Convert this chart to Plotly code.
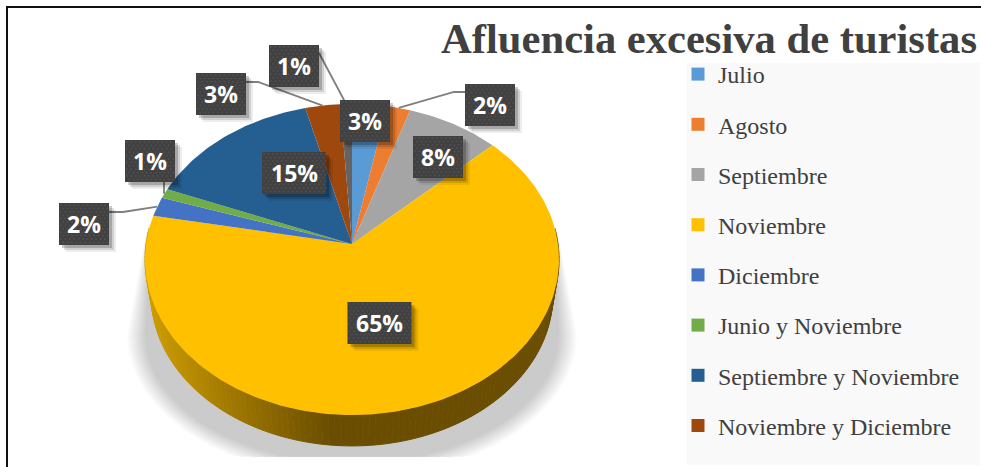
import math
import plotly.graph_objects as go

# ---- data ----
categories = ["Julio", "Agosto", "Septiembre", "Noviembre", "Diciembre",
              "Junio y Noviembre", "Septiembre y Noviembre",
              "Noviembre y Diciembre", ""]
values = [3, 2, 8, 65, 2, 1, 15, 3, 1]
title_text = "Afluencia excesiva de turistas"

# ---- style / layout ----
colors = ["#5B9BD5", "#ED7D31", "#A5A5A5", "#FFC000", "#4472C4",
          "#70AD47", "#255E91", "#9E480E", "#636363"]
W, H = 981, 467
CX, CY = 352, 244         # pie apex on the canvas
RX, RY, K = 206, 154, 0.0997  # tilted-disc projection
DROP, SHRINK = 36, 0.97   # lower disc of the wall
BOX_W, BOX_H = 50, 42
box_centres = [(365, 121), (490, 105), (438, 157), (379.5, 323), (84, 224),
               (150, 161), (294, 173), (221, 94), (294, 66)]
leaders = {1: [(454, 92), (465, 92)],
           4: [(123, 212), (109, 212)],
           5: [(164, 193), (164, 182)],
           7: [(258, 82), (246, 82)],
           8: [(319, 53)]}


def rim(theta_deg):
    t = math.radians(theta_deg)
    d = 1 + K * math.cos(t)
    return CX + RX * math.sin(t) / d, CY - RY * math.cos(t) / d


def low(theta_deg):
    x, y = rim(theta_deg)
    return CX + (x - CX) * SHRINK, CY + (y - CY) * SHRINK + DROP


def mix(c1, c2, f):
    return "rgb(%d,%d,%d)" % tuple(c1[i] + (c2[i] - c1[i]) * f for i in range(3))


fig = go.Figure()


def poly(xs, ys, fill, line=None):
    fig.add_trace(go.Scatter(
        x=xs, y=ys, mode="lines", fill="toself", fillcolor=fill,
        line=dict(width=1 if line else 0, color=line or fill),
        hoverinfo="skip", showlegend=False))


# soft ground shadow: stacked translucent ellipses, flat cut at the bottom
for i in range(13):
    a, b, cy = 225 - 1.5 * i, 143 - 1.2 * i, 335
    xs, ys = [], []
    for d in range(0, 181, 3):
        r = math.radians(d)
        xs.append(352 + a * math.cos(r))
        ys.append(min(457, cy + b * math.sin(r)))
    xs += [352 - 206 + i * 0.3, 352 + 206 - i * 0.3]
    ys += [232, 232]
    poly(xs, ys, "rgba(0,0,0,0.015)")

# side wall of the disc, shaded left to right
light, dark = (206, 157, 0), (106, 77, 0)
step = 1.5
th = 84.0
while th < 276:
    x1, y1 = rim(th)
    x2, y2 = rim(th + step)
    x3, y3 = low(th + step)
    x4, y4 = low(th)
    f = min(1, max(0, ((x1 + x2) / 2 - 146) / 185))
    c = mix(light, dark, f)
    poly([x1, x2, x3, x4], [y1, y2, y3, y4], c, line=c)
    th += step

# top face: slices
total = sum(values)
acc = 0
mids = []
for v, c, name in zip(values, colors, categories):
    start = 360 * acc / total
    end = 360 * (acc + v) / total
    mids.append((start + end) / 2)
    n = max(2, int(end - start) + 1)
    pts = [rim(start + (end - start) * j / n) for j in range(n + 1)]
    fig.add_trace(go.Scatter(
        x=[CX] + [p[0] for p in pts] + [CX],
        y=[CY] + [p[1] for p in pts] + [CY],
        mode="lines", fill="toself", fillcolor=c,
        line=dict(width=0, color=c),
        legendgroup=name or "otros", showlegend=False,
        name=name, hovertemplate=f"{name}: {v}%<extra></extra>"))
    acc += v

# legend entries
for name, c in zip(categories, colors):
    if name:
        fig.add_trace(go.Scatter(
            x=[None], y=[None], mode="markers", name=name, legendgroup=name,
            marker=dict(symbol="square", size=13, color=c)))

# leader lines
for idx, path in leaders.items():
    ax, ay = rim(mids[idx])
    fig.add_trace(go.Scatter(
        x=[ax] + [p[0] for p in path], y=[ay] + [p[1] for p in path],
        mode="lines", line=dict(color="#7F7F7F", width=1.8),
        hoverinfo="skip", showlegend=False))

# data label boxes
dx, dy = [], []
annotations = []
for v, (bx, by) in zip(values, box_centres):
    text = f"{v}%"
    w = BOX_W if len(text) < 3 else 64
    l, r, t, b = bx - w / 2, bx + w / 2, by - BOX_H / 2, by + BOX_H / 2
    for off, alpha in ((7, 0.07), (5, 0.12), (3, 0.2)):
        poly([l + off, r + off, r + off, l + off],
             [t + off, t + off, b + off, b + off], f"rgba(0,0,0,{alpha})")
    poly([l, r, r, l], [t, t, b, b], "#414141")
    row = 0
    yy = t + 2
    while yy < b:
        xx = l + 2 + (row % 2) * 2.2
        while xx < r:
            dx.append(xx)
            dy.append(yy)
            xx += 4.4
        yy += 3.4
        row += 1
    annotations.append(dict(
        x=bx, y=by, xref="x", yref="y", text=text, showarrow=False,
        font=dict(family="Open Sans", size=23, color="#FFFFFF", weight=700)))

fig.add_trace(go.Scatter(
    x=dx, y=dy, mode="markers", hoverinfo="skip", showlegend=False,
    marker=dict(size=2, color="rgba(255,255,255,0.08)", line=dict(width=0))))

fig.update_layout(
    width=W, height=H, autosize=False,
    margin=dict(l=0, r=0, t=0, b=0),
    paper_bgcolor="#FFFFFF", plot_bgcolor="#FFFFFF",
    xaxis=dict(range=[0, W], visible=False, fixedrange=True),
    yaxis=dict(range=[H, 0], visible=False, fixedrange=True),
    title=dict(text=title_text, x=977 / W, xanchor="right", xref="paper",
               y=1 - 38 / H, yanchor="middle", yref="paper",
               font=dict(family="Liberation Serif", size=42.6, color="#404040",
                         weight=700)),
    legend=dict(x=678 / W, xanchor="left", y=1 - 52 / H, yanchor="top",
                xref="paper", yref="paper",
                bgcolor="rgba(0,0,0,0)", tracegroupgap=16,
                itemclick=False, itemdoubleclick=False,
                font=dict(family="Liberation Serif", size=24, color="#404040")),
    shapes=[
        dict(type="rect", xref="x", yref="y", x0=687, x1=980, y0=63, y1=465,
             fillcolor="#F9F9F9", line=dict(width=0), layer="below"),
        dict(type="line", xref="x", yref="y", x0=7, x1=W, y0=7, y1=7,
             line=dict(color="#111111", width=2)),
        dict(type="line", xref="x", yref="y", x0=7, x1=7, y0=6, y1=H,
             line=dict(color="#111111", width=2)),
    ],
    annotations=annotations,
)

fig.write_html("out.html", config={"displayModeBar": False},
               post_script="document.body.style.margin='0';document.body.style.overflow='hidden';")
